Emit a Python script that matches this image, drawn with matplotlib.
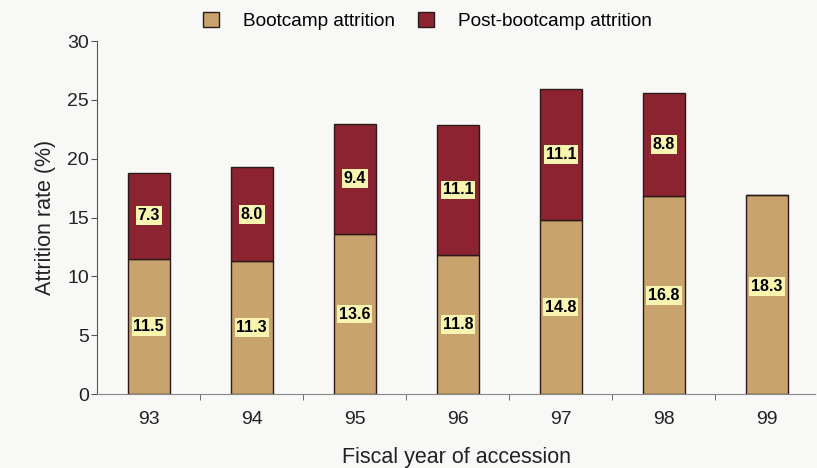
import numpy as np
import matplotlib.pyplot as plt

plt.rcParams['font.family'] = ['Liberation Sans', 'DejaVu Sans']

years = ['93', '94', '95', '96', '97', '98', '99']
# bar heights as drawn in the picture
bootcamp = [11.5, 11.3, 13.6, 11.8, 14.8, 16.8, 16.9]
post = [7.3, 8.0, 9.4, 11.1, 11.1, 8.8, 0.0]
# printed labels
boot_labels = [11.5, 11.3, 13.6, 11.8, 14.8, 16.8, 18.3]
post_labels = [7.3, 8.0, 9.4, 11.1, 11.1, 8.8, None]

tan = '#c9a36e'
maroon = '#8c2330'

fig = plt.figure(figsize=(8.17, 4.68), dpi=100, facecolor='#f8f8f6')
ax = fig.add_axes([0.119, 0.158, 0.879, 0.754])
ax.set_facecolor('#f8f8f6')

x = np.arange(len(years))
w = 0.41
ax.bar(x, bootcamp, w, color=tan, edgecolor='#2a1a1a', linewidth=1.0,
       label='Bootcamp attrition', zorder=2)
ax.bar(x, post, w, bottom=bootcamp, color=maroon, edgecolor='#2a1a1a',
       linewidth=1.0, label='Post-bootcamp attrition', zorder=2)

box = dict(boxstyle='square,pad=0.12', facecolor='#f9f5b0', edgecolor='none')
for i in range(len(years)):
    ax.text(x[i], boot_labels[i] / 2, f'{boot_labels[i]:.1f}', ha='center',
            va='center', fontsize=11.5, fontweight='bold', bbox=box, zorder=3)
    if post_labels[i] is not None:
        ax.text(x[i], bootcamp[i] + post_labels[i] / 2, f'{post_labels[i]:.1f}',
                ha='center', va='center', fontsize=11.5, fontweight='bold',
                bbox=box, zorder=3)

ax.set_xlim(-0.5, 6.47)
ax.set_ylim(0, 30)
ax.set_yticks([0, 5, 10, 15, 20, 25, 30])
ax.set_xticks(x)
ax.set_xticklabels(years)
ax.set_xticks(x[:-1] + 0.5, minor=True)
ax.tick_params(axis='x', which='major', length=0, labelsize=14, pad=12,
               labelcolor='#222222')
ax.tick_params(axis='x', which='minor', length=4, direction='out',
               color='#555555')
ax.tick_params(axis='y', length=4, labelsize=14, labelcolor='#222222',
               color='#555555', pad=2)
for s in ['top', 'right']:
    ax.spines[s].set_visible(False)
ax.spines['left'].set_color('#555555')
ax.spines['bottom'].set_color('#888888')

ax.set_ylabel('Attrition rate (%)', fontsize=15.5, color='#222222', labelpad=8)
ax.set_xlabel('Fiscal year of accession', fontsize=15.5, color='#222222',
              labelpad=14)

fig.legend(loc='upper center', bbox_to_anchor=(0.523, 1.012), ncol=2,
           frameon=False, fontsize=13.7, handlelength=0.85, handleheight=0.85,
           columnspacing=1.2, handletextpad=1.25)

fig.savefig('out.png', dpi=100, facecolor=fig.get_facecolor())
